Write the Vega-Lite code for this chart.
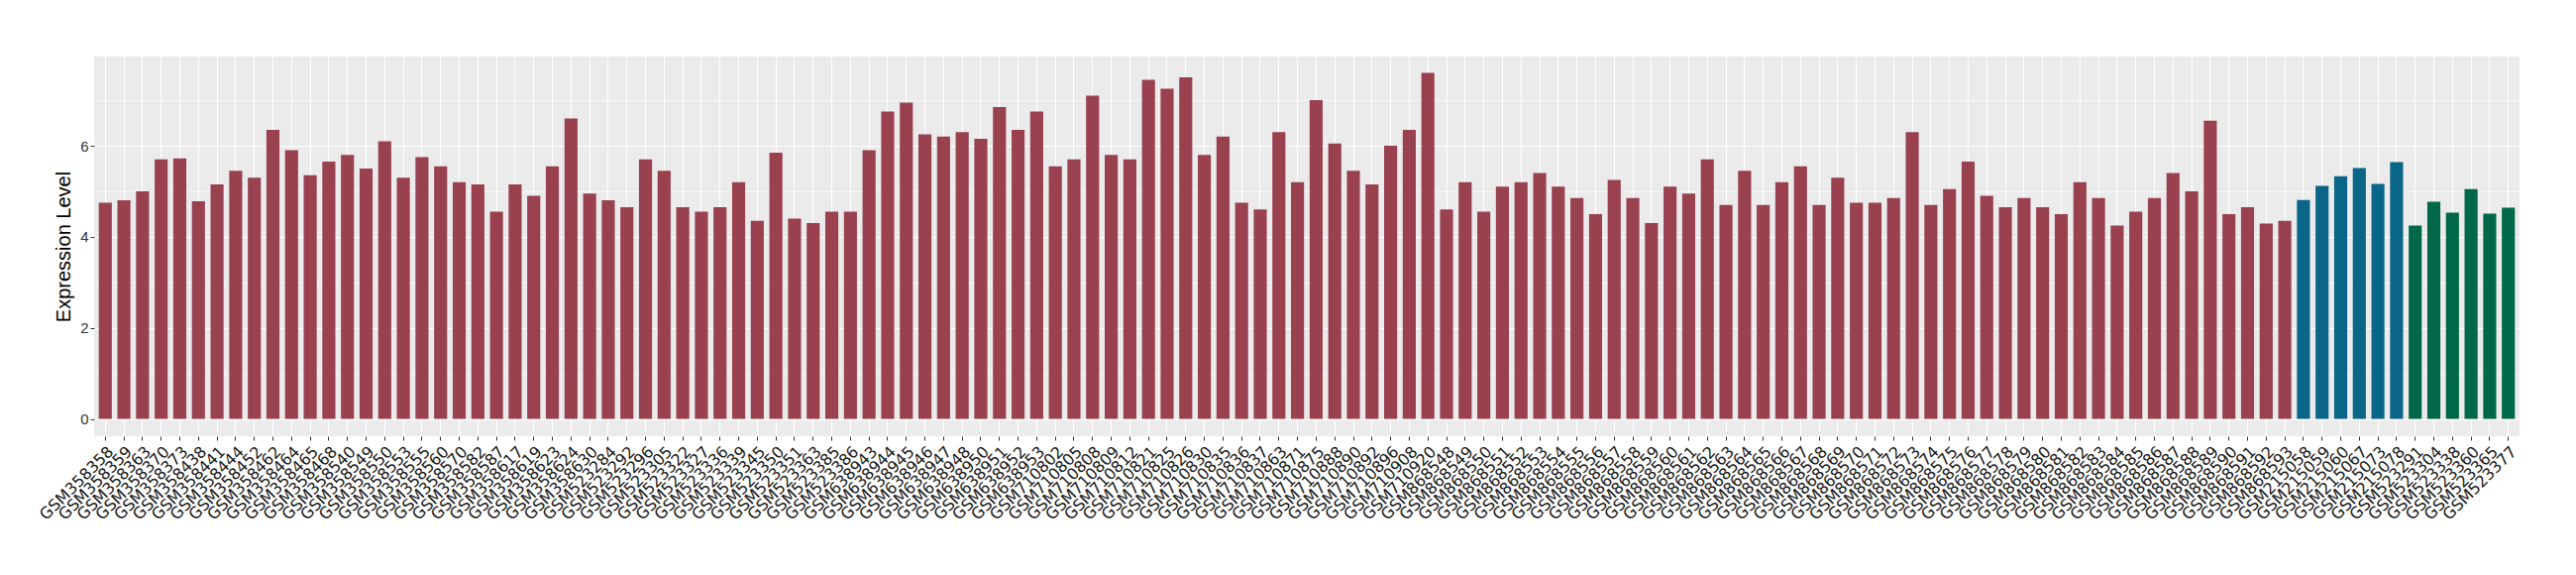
{
  "$schema": "https://vega.github.io/schema/vega-lite/v6.json",
  "autosize": {"type": "none"},
  "padding": {"left": 95, "top": 57, "right": 57, "bottom": 140},
  "width": 2448,
  "height": 383,
  "background": "white",
  "config": {
    "view": {"fill": "#EBEBEB", "stroke": null},
    "font": "Liberation Sans",
    "axisX": {"title": null, "labelAngle": -45, "labelAlign": "right", "labelBaseline": "top",
              "labelFont": "DejaVu Sans", "labelFontSize": 16, "labelColor": "#1a1a1a", "labelPadding": 3,
              "tickSize": 4, "tickColor": "#333333", "domain": false,
              "grid": true, "gridColor": "white", "gridWidth": 1.1, "bandPosition": 0.5,
              "labelOverlap": false, "labelBound": false}
  },
  "data": {"values": [
    {"s":"GSM358358","v":4.75,"g":"a"},{"s":"GSM358359","v":4.8,"g":"a"},{"s":"GSM358363","v":5.0,"g":"a"},{"s":"GSM358370","v":5.7,"g":"a"},{"s":"GSM358373","v":5.72,"g":"a"},
    {"s":"GSM358438","v":4.78,"g":"a"},{"s":"GSM358441","v":5.15,"g":"a"},{"s":"GSM358444","v":5.45,"g":"a"},{"s":"GSM358452","v":5.3,"g":"a"},{"s":"GSM358462","v":6.35,"g":"a"},
    {"s":"GSM358464","v":5.9,"g":"a"},{"s":"GSM358465","v":5.35,"g":"a"},{"s":"GSM358468","v":5.65,"g":"a"},{"s":"GSM358540","v":5.8,"g":"a"},{"s":"GSM358549","v":5.5,"g":"a"},
    {"s":"GSM358550","v":6.1,"g":"a"},{"s":"GSM358553","v":5.3,"g":"a"},{"s":"GSM358555","v":5.75,"g":"a"},{"s":"GSM358560","v":5.55,"g":"a"},{"s":"GSM358570","v":5.2,"g":"a"},
    {"s":"GSM358582","v":5.15,"g":"a"},{"s":"GSM358587","v":4.55,"g":"a"},{"s":"GSM358617","v":5.15,"g":"a"},{"s":"GSM358619","v":4.9,"g":"a"},{"s":"GSM358623","v":5.55,"g":"a"},
    {"s":"GSM358624","v":6.6,"g":"a"},{"s":"GSM358630","v":4.95,"g":"a"},
    {"s":"GSM523284","v":4.8,"g":"a"},{"s":"GSM523292","v":4.65,"g":"a"},{"s":"GSM523296","v":5.7,"g":"a"},{"s":"GSM523305","v":5.45,"g":"a"},{"s":"GSM523322","v":4.65,"g":"a"},
    {"s":"GSM523327","v":4.55,"g":"a"},{"s":"GSM523336","v":4.65,"g":"a"},{"s":"GSM523339","v":5.2,"g":"a"},{"s":"GSM523345","v":4.35,"g":"a"},{"s":"GSM523350","v":5.85,"g":"a"},
    {"s":"GSM523351","v":4.4,"g":"a"},{"s":"GSM523363","v":4.3,"g":"a"},{"s":"GSM523385","v":4.55,"g":"a"},{"s":"GSM523386","v":4.55,"g":"a"},
    {"s":"GSM638943","v":5.9,"g":"a"},{"s":"GSM638944","v":6.75,"g":"a"},{"s":"GSM638945","v":6.95,"g":"a"},{"s":"GSM638946","v":6.25,"g":"a"},{"s":"GSM638947","v":6.2,"g":"a"},
    {"s":"GSM638948","v":6.3,"g":"a"},{"s":"GSM638950","v":6.15,"g":"a"},{"s":"GSM638951","v":6.85,"g":"a"},{"s":"GSM638952","v":6.35,"g":"a"},{"s":"GSM638953","v":6.75,"g":"a"},
    {"s":"GSM710802","v":5.55,"g":"a"},{"s":"GSM710805","v":5.7,"g":"a"},{"s":"GSM710808","v":7.1,"g":"a"},{"s":"GSM710809","v":5.8,"g":"a"},{"s":"GSM710812","v":5.7,"g":"a"},
    {"s":"GSM710821","v":7.45,"g":"a"},{"s":"GSM710825","v":7.25,"g":"a"},{"s":"GSM710826","v":7.5,"g":"a"},{"s":"GSM710830","v":5.8,"g":"a"},{"s":"GSM710835","v":6.2,"g":"a"},
    {"s":"GSM710836","v":4.75,"g":"a"},{"s":"GSM710837","v":4.6,"g":"a"},{"s":"GSM710863","v":6.3,"g":"a"},{"s":"GSM710871","v":5.2,"g":"a"},{"s":"GSM710875","v":7.0,"g":"a"},
    {"s":"GSM710888","v":6.05,"g":"a"},{"s":"GSM710890","v":5.45,"g":"a"},{"s":"GSM710892","v":5.15,"g":"a"},{"s":"GSM710896","v":6.0,"g":"a"},{"s":"GSM710908","v":6.35,"g":"a"},
    {"s":"GSM710920","v":7.6,"g":"a"},
    {"s":"GSM868548","v":4.6,"g":"a"},{"s":"GSM868549","v":5.2,"g":"a"},{"s":"GSM868550","v":4.55,"g":"a"},{"s":"GSM868551","v":5.1,"g":"a"},{"s":"GSM868552","v":5.2,"g":"a"},
    {"s":"GSM868553","v":5.4,"g":"a"},{"s":"GSM868554","v":5.1,"g":"a"},{"s":"GSM868555","v":4.85,"g":"a"},{"s":"GSM868556","v":4.5,"g":"a"},{"s":"GSM868557","v":5.25,"g":"a"},
    {"s":"GSM868558","v":4.85,"g":"a"},{"s":"GSM868559","v":4.3,"g":"a"},{"s":"GSM868560","v":5.1,"g":"a"},{"s":"GSM868561","v":4.95,"g":"a"},{"s":"GSM868562","v":5.7,"g":"a"},
    {"s":"GSM868563","v":4.7,"g":"a"},{"s":"GSM868564","v":5.45,"g":"a"},{"s":"GSM868565","v":4.7,"g":"a"},{"s":"GSM868566","v":5.2,"g":"a"},{"s":"GSM868567","v":5.55,"g":"a"},
    {"s":"GSM868568","v":4.7,"g":"a"},{"s":"GSM868569","v":5.3,"g":"a"},{"s":"GSM868570","v":4.75,"g":"a"},{"s":"GSM868571","v":4.75,"g":"a"},{"s":"GSM868572","v":4.85,"g":"a"},
    {"s":"GSM868573","v":6.3,"g":"a"},{"s":"GSM868574","v":4.7,"g":"a"},{"s":"GSM868575","v":5.05,"g":"a"},{"s":"GSM868576","v":5.65,"g":"a"},{"s":"GSM868577","v":4.9,"g":"a"},
    {"s":"GSM868578","v":4.65,"g":"a"},{"s":"GSM868579","v":4.85,"g":"a"},{"s":"GSM868580","v":4.65,"g":"a"},{"s":"GSM868581","v":4.5,"g":"a"},{"s":"GSM868582","v":5.2,"g":"a"},
    {"s":"GSM868583","v":4.85,"g":"a"},{"s":"GSM868584","v":4.25,"g":"a"},{"s":"GSM868585","v":4.55,"g":"a"},{"s":"GSM868586","v":4.85,"g":"a"},{"s":"GSM868587","v":5.4,"g":"a"},
    {"s":"GSM868588","v":5.0,"g":"a"},{"s":"GSM868589","v":6.55,"g":"a"},{"s":"GSM868590","v":4.5,"g":"a"},{"s":"GSM868591","v":4.65,"g":"a"},{"s":"GSM868592","v":4.29,"g":"a"},
    {"s":"GSM868593","v":4.35,"g":"a"},
    {"s":"GSM215058","v":4.81,"g":"b"},{"s":"GSM215059","v":5.12,"g":"b"},{"s":"GSM215060","v":5.33,"g":"b"},{"s":"GSM215067","v":5.51,"g":"b"},{"s":"GSM215073","v":5.16,"g":"b"},
    {"s":"GSM215078","v":5.64,"g":"b"},
    {"s":"GSM523291","v":4.25,"g":"c"},{"s":"GSM523304","v":4.77,"g":"c"},{"s":"GSM523338","v":4.53,"g":"c"},{"s":"GSM523360","v":5.05,"g":"c"},{"s":"GSM523365","v":4.51,"g":"c"},
    {"s":"GSM523377","v":4.64,"g":"c"}
  ]},
  "layer": [
    {
      "mark": {"type": "bar", "opacity": 0},
      "encoding": {
        "x": {"field": "s", "type": "nominal", "sort": null,
              "scale": {"paddingInner": 0.3, "paddingOuter": 0.25}},
        "y": {"field": "v", "type": "quantitative",
              "scale": {"domain": [-0.38, 7.96], "nice": false, "zero": false},
              "axis": {"orient": "left", "values": [1, 3, 5, 7], "labels": false, "ticks": false,
                       "domain": false, "title": null, "grid": true, "gridColor": "white", "gridWidth": 0.6}}
      }
    },
    {
      "mark": {"type": "bar"},
      "encoding": {
        "x": {"field": "s", "type": "nominal", "sort": null,
              "scale": {"paddingInner": 0.3, "paddingOuter": 0.25}},
        "y": {"field": "v", "type": "quantitative",
              "scale": {"domain": [-0.38, 7.96], "nice": false, "zero": false},
              "axis": {"orient": "left", "values": [0, 2, 4, 6], "title": "Expression Level",
                       "titleFontSize": 20, "titleFontWeight": "normal", "titleColor": "black", "titlePadding": 6,
                       "labelFontSize": 15, "labelColor": "#333333", "labelPadding": 2,
                       "tickSize": 4, "tickColor": "#333333", "domain": false,
                       "grid": true, "gridColor": "white", "gridWidth": 1.1}},
        "color": {"field": "g", "type": "nominal",
                  "scale": {"domain": ["a", "b", "c"], "range": ["#9A4150", "#0A6688", "#006848"]},
                  "legend": null}
      }
    }
  ],
  "resolve": {"axis": {"y": "independent"}}
}
